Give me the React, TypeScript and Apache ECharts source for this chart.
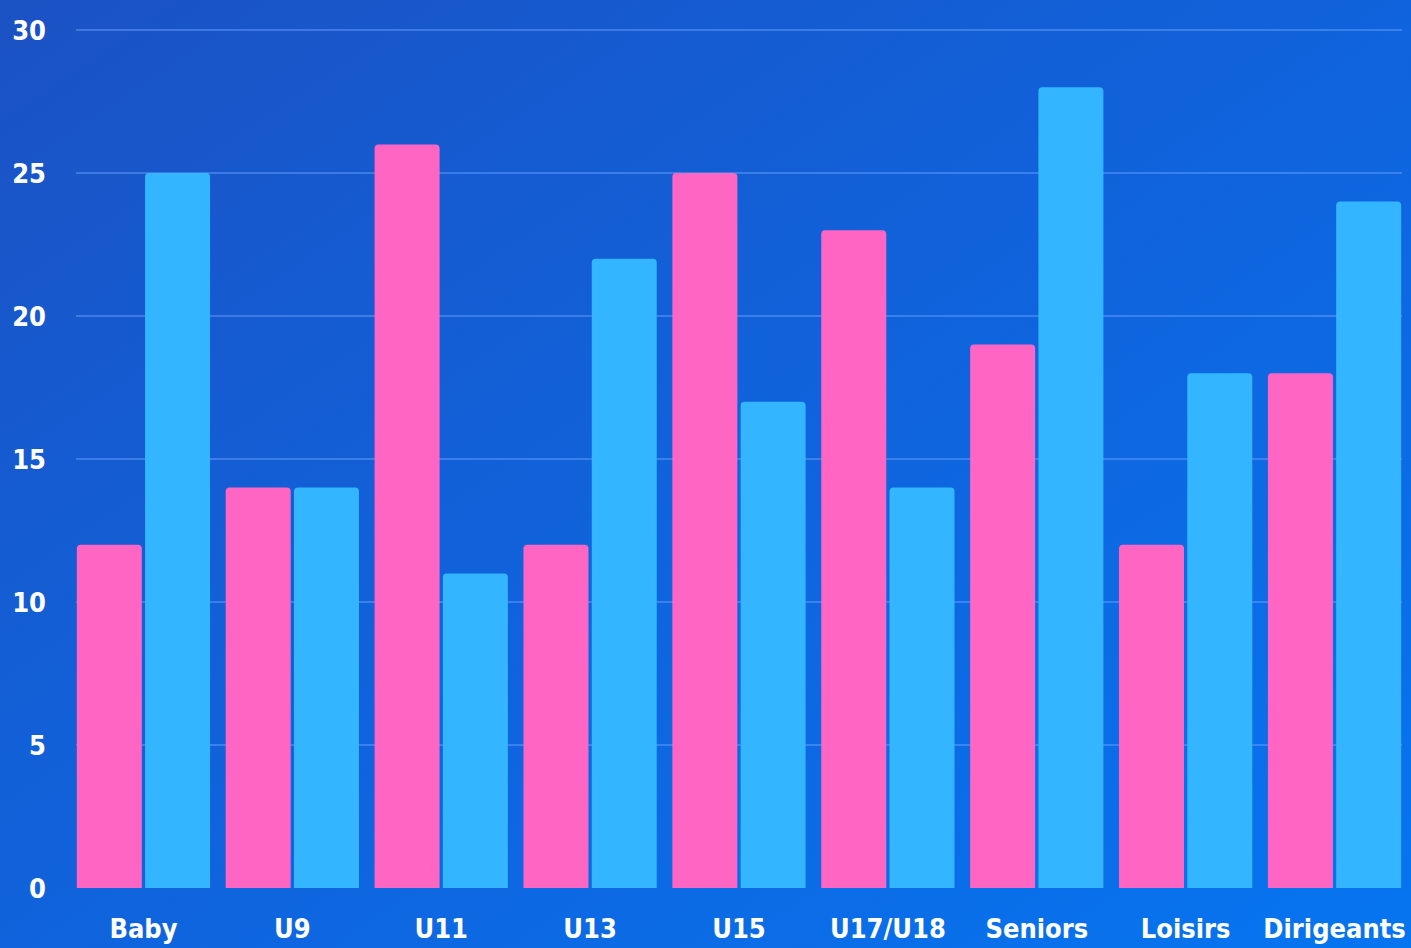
import React, { useEffect, useRef } from "react";
import * as echarts from "echarts";

const categories = ["Baby", "U9", "U11", "U13", "U15", "U17/U18", "Seniors", "Loisirs", "Dirigeants"];
const pinkValues = [12, 14, 26, 12, 25, 23, 19, 12, 18];
const blueValues = [25, 14, 11, 22, 17, 14, 28, 18, 24];
const yTicks = { min: 0, max: 30, interval: 5 };

const FONT = "'DejaVu Sans Condensed', 'DejaVu Sans', sans-serif";

export default function App() {
  const ref = useRef<HTMLDivElement>(null);
  useEffect(() => {
    document.body.style.margin = "0";
    const chart = echarts.init(ref.current!, undefined, { renderer: "svg" });
    chart.setOption({
      animation: false,
      backgroundColor: new echarts.graphic.LinearGradient(0, 0, 1, 1, [
        { offset: 0, color: "#1b52c4" },
        { offset: 0.5, color: "#1063dc" },
        { offset: 1, color: "#0675f0" },
      ]),
      grid: [
        { left: 69, right: 2, top: 30, bottom: 60, containLabel: false },
        { left: 76, right: 9, top: 30, bottom: 60, containLabel: false },
      ],
      xAxis: [
        {
          type: "category",
          gridIndex: 0,
          data: categories,
          axisLine: { show: false },
          axisTick: { show: false },
          axisLabel: {
            color: "#ffffff",
            fontFamily: FONT,
            fontWeight: "bold",
            fontSize: 27,
            margin: 27,
            interval: 0,
          },
        },
        {
          type: "category",
          gridIndex: 1,
          data: categories,
          show: false,
        },
      ],
      yAxis: [
        {
          type: "value",
          gridIndex: 0,
          min: yTicks.min,
          max: yTicks.max,
          interval: yTicks.interval,
          axisLine: { show: false },
          axisTick: { show: false },
          axisLabel: {
            color: "#ffffff",
            fontFamily: FONT,
            fontWeight: "bold",
            fontSize: 27,
            margin: 23,
          },
          splitLine: { show: false },
        },
        {
          type: "value",
          gridIndex: 1,
          min: yTicks.min,
          max: yTicks.max,
          interval: yTicks.interval,
          axisLine: { show: false },
          axisTick: { show: false },
          axisLabel: { show: false },
          splitLine: {
            show: true,
            showMinLine: false,
            lineStyle: { color: "rgba(110,165,255,0.6)", width: 1.5 },
          },
        },
      ],
      series: [
        {
          type: "bar",
          xAxisIndex: 0,
          yAxisIndex: 0,
          data: pinkValues,
          barWidth: 65,
          barGap: "5%",
          itemStyle: { color: "#ff66c4", borderRadius: [4, 4, 0, 0] },
        },
        {
          type: "bar",
          xAxisIndex: 0,
          yAxisIndex: 0,
          data: blueValues,
          barWidth: 65,
          itemStyle: { color: "#33b6ff", borderRadius: [4, 4, 0, 0] },
        },
      ],
    });
    return () => chart.dispose();
  }, []);
  return <div ref={ref} style={{ position: "fixed", left: 0, top: 0, width: 1411, height: 948 }} />;
}
